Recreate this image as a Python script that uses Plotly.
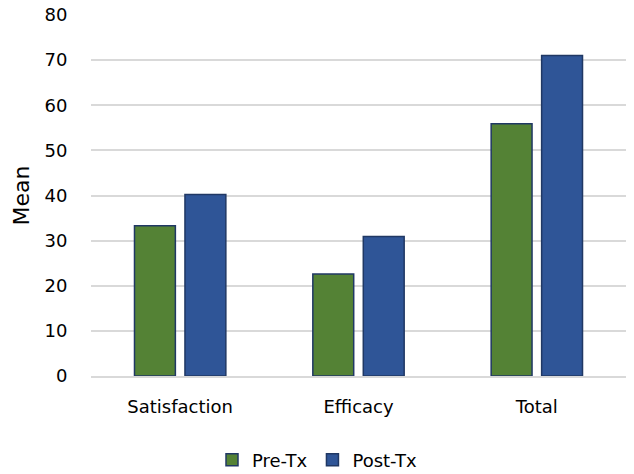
import plotly.graph_objects as go

categories = ["Satisfaction", "Efficacy", "Total"]
pre_tx = [33.3, 22.6, 55.9]
post_tx = [40.2, 30.9, 71.0]
y_ticks = [0, 10, 20, 30, 40, 50, 60, 70, 80]

font_family = "DejaVu Sans, sans-serif"
outline = "#203864"

fig = go.Figure()
fig.add_trace(go.Bar(
    name="Pre-Tx", x=categories, y=pre_tx,
    marker=dict(color="#548235", line=dict(color=outline, width=1.5)),
))
fig.add_trace(go.Bar(
    name="Post-Tx", x=categories, y=post_tx,
    marker=dict(color="#2F5597", line=dict(color=outline, width=1.5)),
))

fig.update_layout(
    width=634, height=474,
    margin=dict(l=91, r=8, t=15, b=98),
    paper_bgcolor="white", plot_bgcolor="white",
    barmode="group", bargap=0.434, bargroupgap=0.19,
    font=dict(family=font_family, size=18, color="#000000"),
    showlegend=True,
    legend=dict(orientation="h", x=0.5, xanchor="center", xref="container",
                y=1 - 460 / 474, yanchor="middle", yref="container",
                font=dict(size=18), itemwidth=30, traceorder="normal"),
    xaxis=dict(showline=True, linecolor="#D9D9D9", linewidth=1.5,
               ticks="outside", ticklen=14, tickcolor="white",
               tickfont=dict(size=18), showgrid=False, automargin=False),
    yaxis=dict(range=[0, 80], tickvals=y_ticks, showgrid=True, gridcolor="#D9D9D9",
               gridwidth=1.5, zeroline=False, showline=False, ticks="outside",
               ticklen=19, tickcolor="white", automargin=False,
               tickfont=dict(size=18),
               title=dict(text="Mean", font=dict(size=22), standoff=8)),
)

fig.write_html("out.html")
